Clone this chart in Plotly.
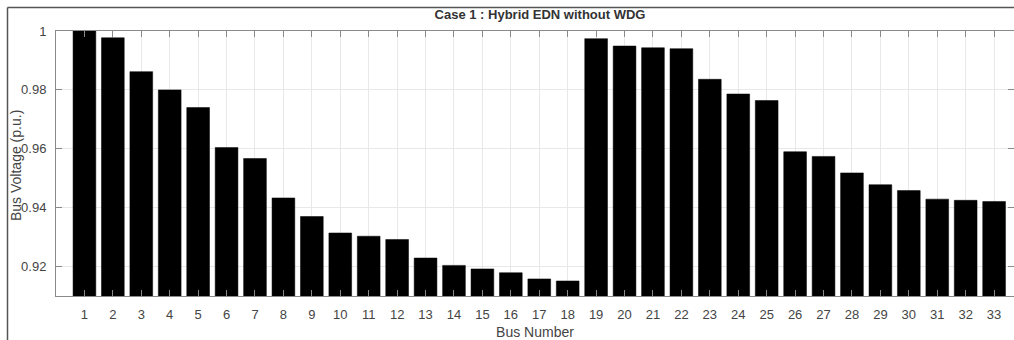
import plotly.graph_objects as go

buses = list(range(1, 34))
voltages = [1.0, 0.9977, 0.9862, 0.9800, 0.9740, 0.9604, 0.9567, 0.9433, 0.9370, 0.9314,
            0.9303, 0.9292, 0.9229, 0.9204, 0.9192, 0.9179, 0.9158, 0.9151,
            0.9974, 0.9949, 0.9943, 0.9940, 0.9836, 0.9786, 0.9764, 0.9590, 0.9574,
            0.9518, 0.9478, 0.9458, 0.9429, 0.9425, 0.9421]
y_ticks = [0.92, 0.94, 0.96, 0.98, 1.0]
y_tick_text = ["0.92", "0.94", "0.96", "0.98", "1"]

W, H = 1014, 340
ML, MR, MT, MB = 56, 0, 31, 44
pw, ph = W - ML - MR, H - MT - MB

font_family = "Liberation Sans, Arial, sans-serif"
axis_col = "#8a8a8a"
text_col = "#444444"

fig = go.Figure(go.Bar(
    x=buses, y=voltages, width=0.8,
    marker=dict(color="black", line=dict(color="black", width=0.5)),
))

fig.update_layout(
    width=W, height=H,
    margin=dict(l=ML, r=MR, t=MT, b=MB, autoexpand=False),
    paper_bgcolor="white", plot_bgcolor="white",
    showlegend=False,
    font=dict(family=font_family, color=text_col, size=13),
    title=dict(text="<b>Case 1 : Hybrid EDN without WDG</b>", x=540 / W, xanchor="center",
               y=1 - 14 / H, yanchor="middle", font=dict(size=13, color="#333333")),
    bargap=0.2,
)

fig.update_xaxes(
    range=[0, 33.7], tickmode="array", tickvals=buses, ticktext=[str(b) for b in buses],
    showgrid=True, gridcolor="#e8e8e8", gridwidth=1,
    showline=True, linecolor=axis_col, linewidth=1, mirror="ticks",
    ticks="inside", ticklen=6, tickcolor=axis_col,
    tickfont=dict(size=13, color=text_col), ticklabelstandoff=6,
    title=dict(text="Bus Number", font=dict(size=14, color=text_col), standoff=10),
    zeroline=False, automargin=False,
)
fig.update_yaxes(
    range=[0.91, 1.0], tickmode="array", tickvals=y_ticks, ticktext=y_tick_text,
    showgrid=True, gridcolor="#e8e8e8", gridwidth=1,
    showline=True, linecolor=axis_col, linewidth=1, mirror="ticks",
    ticks="inside", ticklen=6, tickcolor=axis_col,
    tickfont=dict(size=13, color=text_col), ticklabelstandoff=6,
    zeroline=False, automargin=False,
)

# y-axis title as a rotated annotation for precise placement
fig.add_annotation(text="Bus Voltage (p.u.)", xref="paper", yref="paper",
                   x=(16 - ML) / pw, y=(H - MB - 166) / ph, xanchor="center", yanchor="middle",
                   textangle=-90, showarrow=False, font=dict(size=14, color=text_col))

# outer figure border (top and left edges visible in the original)
bx = (7.5 - ML) / pw
by = (H - MB - 7.5) / ph
fig.add_shape(type="line", xref="paper", yref="paper", x0=bx, x1=(W - ML) / pw + 0.01, y0=by, y1=by,
              line=dict(color="#555555", width=1.5))
fig.add_shape(type="line", xref="paper", yref="paper", x0=bx, x1=bx, y0=by, y1=-(MB + 5) / ph,
              line=dict(color="#555555", width=1.5))

fig.write_html("out.html")
